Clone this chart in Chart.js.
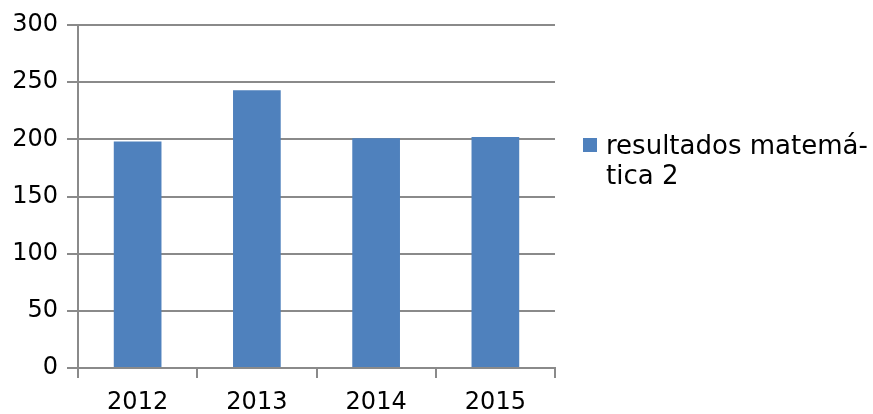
<!DOCTYPE html>
<html lang="es">
<head>
  <meta charset="UTF-8">
  <title>resultados matemática 2</title>
  <script src="https://cdn.jsdelivr.net/npm/chart.js"></script>
  <style>
    body { margin: 0; background: #fff; }
    #wrap { width: 873px; height: 414px; }
  </style>
</head>
<body>
  <div id="wrap"><canvas id="chart" width="873" height="414"></canvas></div>

  <script>
    const years = ['2012', '2013', '2014', '2015'];
    const scores = [198, 243, 201, 202];
    const seriesName = 'resultados matemática 2';
    // legend text wrapped like the original
    const legendLines = ['resultados matemá-', 'tica 2'];

    const gridGray = '#8a8a8a';
    const barBlue = '#4f81bd';
    const font = { family: '"DejaVu Sans", sans-serif', size: 24 };

    // draws the legend box and the two wrapped lines on the right
    const sideLegend = {
      id: 'sideLegend',
      afterDraw(chart) {
        const ctx = chart.ctx;
        const ds = chart.data.datasets[0];
        const x = chart.chartArea.right + 28;
        ctx.save();
        ctx.fillStyle = ds.backgroundColor;
        ctx.fillRect(x, 138, 14, 14);
        ctx.fillStyle = '#000';
        ctx.font = '26px "DejaVu Sans", sans-serif';
        ctx.textBaseline = 'alphabetic';
        legendLines.forEach((line, i) => {
          ctx.fillText(line, x + 23, 154 + i * 30);
        });
        ctx.restore();
      }
    };

    new Chart(document.getElementById('chart'), {
      type: 'bar',
      data: {
        labels: years,
        datasets: [{
          label: seriesName,
          data: scores,
          backgroundColor: barBlue,
          barPercentage: 0.4,
          categoryPercentage: 1
        }]
      },
      options: {
        responsive: false,
        animation: false,
        layout: { padding: { top: 25, right: 318, left: 0, bottom: 0 } },
        plugins: {
          legend: { display: false },
          tooltip: { enabled: false }
        },
        scales: {
          x: {
            afterFit(scale) { scale.height = 46; },
            grid: {
              offset: true,
              drawOnChartArea: false,
              drawTicks: true,
              tickLength: 10,
              color: gridGray,
              lineWidth: 2
            },
            border: { color: gridGray, width: 2 },
            ticks: { color: '#000', font, padding: 10 }
          },
          y: {
            min: 0,
            max: 300,
            afterFit(scale) { scale.width = 78; },
            grid: {
              color: gridGray,
              lineWidth: 2,
              tickLength: 11
            },
            border: { color: gridGray, width: 2 },
            ticks: { stepSize: 50, color: '#000', font, padding: 9 }
          }
        }
      },
      plugins: [sideLegend]
    });
  </script>
</body>
</html>
